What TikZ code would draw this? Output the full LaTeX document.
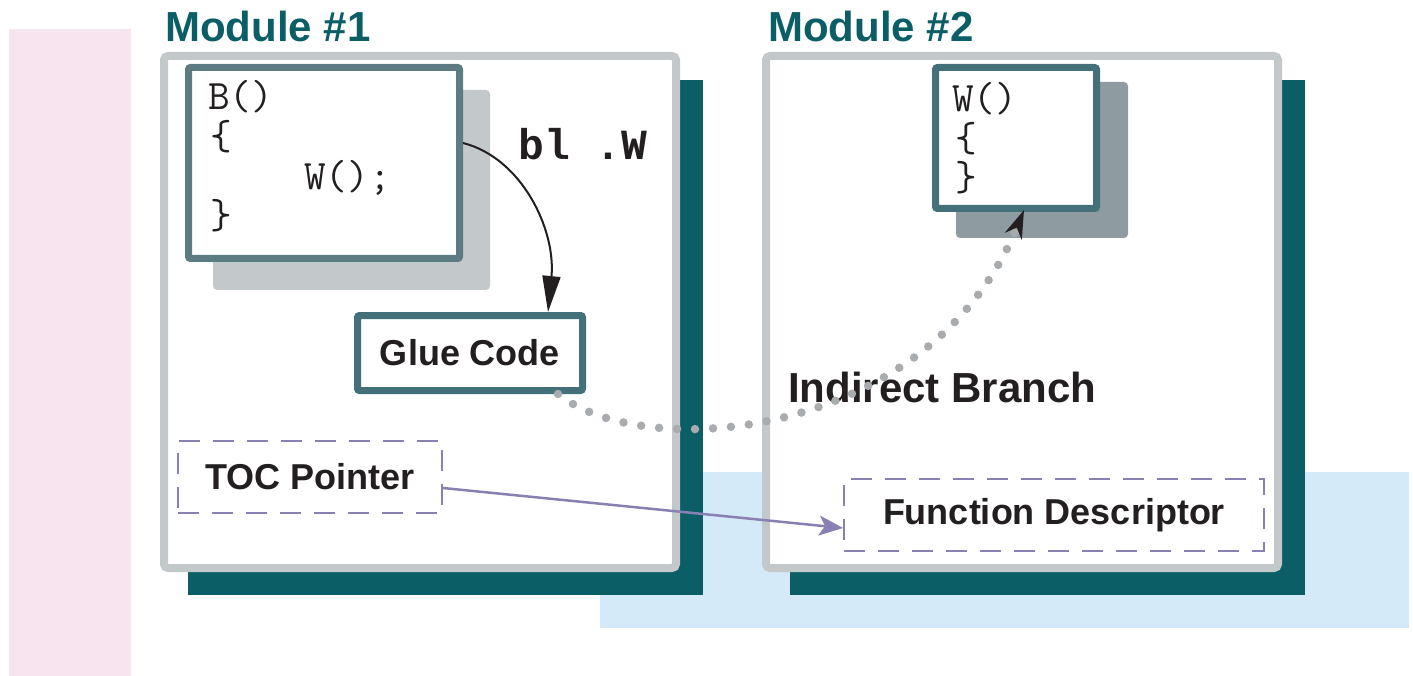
\documentclass[tikz,border=0pt]{standalone}
\usepackage{fontspec}
\setmainfont{Liberation Sans}
\newfontfamily\boldmono{Liberation Mono}
\usetikzlibrary{arrows.meta}
\definecolor{titleteal}{HTML}{0B5E66}
\definecolor{shadowteal}{HTML}{0B5E66}
\definecolor{framegray}{HTML}{C3C8CB}
\definecolor{lightshadow}{HTML}{C3C8CB}
\definecolor{darkshadow}{HTML}{8E9CA2}
\definecolor{bborder}{HTML}{5D7B83}
\definecolor{wborder}{HTML}{44707A}
\definecolor{pinkbg}{HTML}{F7E4EE}
\definecolor{bluebg}{HTML}{D4EAF8}
\definecolor{lilac}{HTML}{8A80B3}
\definecolor{dotgray}{HTML}{A9ACAE}
\definecolor{ink}{HTML}{231F20}
\begin{document}
\begin{tikzpicture}[x=1pt,y=-1pt,
  titletext/.style={font=\bfseries\fontsize{42}{50}\selectfont, text=titleteal, anchor=base west, inner sep=0pt},
  codetext/.style={font=\ttfamily\fontsize{42}{46}\selectfont, text=ink, anchor=base west, inner sep=0pt},
  boldcode/.style={font=\boldmono\bfseries\fontsize{43}{48}\selectfont, text=ink, anchor=base west, inner sep=0pt},
  labeltext/.style={font=\bfseries\fontsize{36}{42}\selectfont, text=ink},
  bigtext/.style={font=\bfseries\fontsize{42}{48}\selectfont, text=ink, inner sep=0pt},
  codebox/.style={draw=#1, line width=7pt, fill=white, rounded corners=2pt, inner sep=0pt},
  dashbox/.style={draw=lilac, line width=2pt, dash pattern=on 21pt off 13pt, fill=white, inner sep=0pt},
  moduleframe/.style={draw=framegray, line width=8pt, fill=white, rounded corners=4pt},
]
\useasboundingbox (0,0) rectangle (1413,676);
\fill[white] (0,0) rectangle (1413,676);

% background bands
\fill[pinkbg] (9,29) rectangle (131,676);
\fill[bluebg] (600,472) rectangle (1409,628);

% module shadows and frames
\fill[shadowteal] (188,80) rectangle (703,595);
\fill[shadowteal] (790,80) rectangle (1305,595);
\draw[moduleframe] (164,56) rectangle (676,568);
\draw[moduleframe] (766,56) rectangle (1278,568);

\node[titletext] (t1) at (165,42) {Module \#1};
\node[titletext] (t2) at (768,42) {Module \#2};

% inner shadows
\fill[lightshadow, rounded corners=4pt] (213,90) rectangle (490,290);
\fill[darkshadow, rounded corners=4pt] (956,82) rectangle (1128,238);

% code boxes
\node[codebox=bborder, minimum width=271pt, minimum height=191pt] (bbox) at (324,163) {};
\node[codebox=wborder, minimum width=161pt, minimum height=141pt] (wbox) at (1016,138) {};
\node[codebox=wborder, minimum width=225pt, minimum height=75pt, labeltext] (glue) at (470,353) {Glue Code};

% code text
\node[codetext] (b1) at (208,110) {B()};
\node[codetext] (b2) at (210,150) {\{};
\node[codetext] (b3) at (304,190) {W();};
\node[codetext] (b4) at (210,229) {\}};
\node[codetext] (w1) at (952,112) {W()};
\node[codetext] (w2) at (955,152) {\{};
\node[codetext] (w3) at (955,191) {\}};

\node[boldcode] (bl) at (518,160) {bl .W};

% dashed boxes
\node[dashbox, minimum width=264pt, minimum height=72pt, labeltext] (toc) at (310,477) {TOC Pointer};
\node[dashbox, minimum width=420pt, minimum height=72pt, labeltext] (fd) at (1054,515) {Function Descriptor};

\node[bigtext, anchor=base west] (ib) at (788,402) {Indirect Branch};

% connectors
\coordinate (bstart) at ([yshift=20pt]bbox.east);
\coordinate (gtop) at ([xshift=78pt]glue.north);
\draw[ink, line width=2pt, -{Triangle[length=36pt,width=18pt]}]
  (bstart) .. controls (522,158) and (556,230) .. (gtop);

\coordinate (gstart) at ([xshift=-28pt]glue.south east);
\coordinate (wend) at ([xshift=8pt, yshift=2pt]wbox.south);
\draw[dotgray, line width=8.5pt, line cap=round, dash pattern=on 0pt off 18pt,
      -{Stealth[ink, length=28pt, width=18pt]}]
  (gstart) .. controls (645,464) and (930,440) .. (wend);

\draw[lilac, line width=2.5pt, -{Stealth[length=24pt, width=20pt, inset=6pt]}]
  ([yshift=-11pt]toc.east) -- ([yshift=-13pt]fd.west);
\end{tikzpicture}
\end{document}
